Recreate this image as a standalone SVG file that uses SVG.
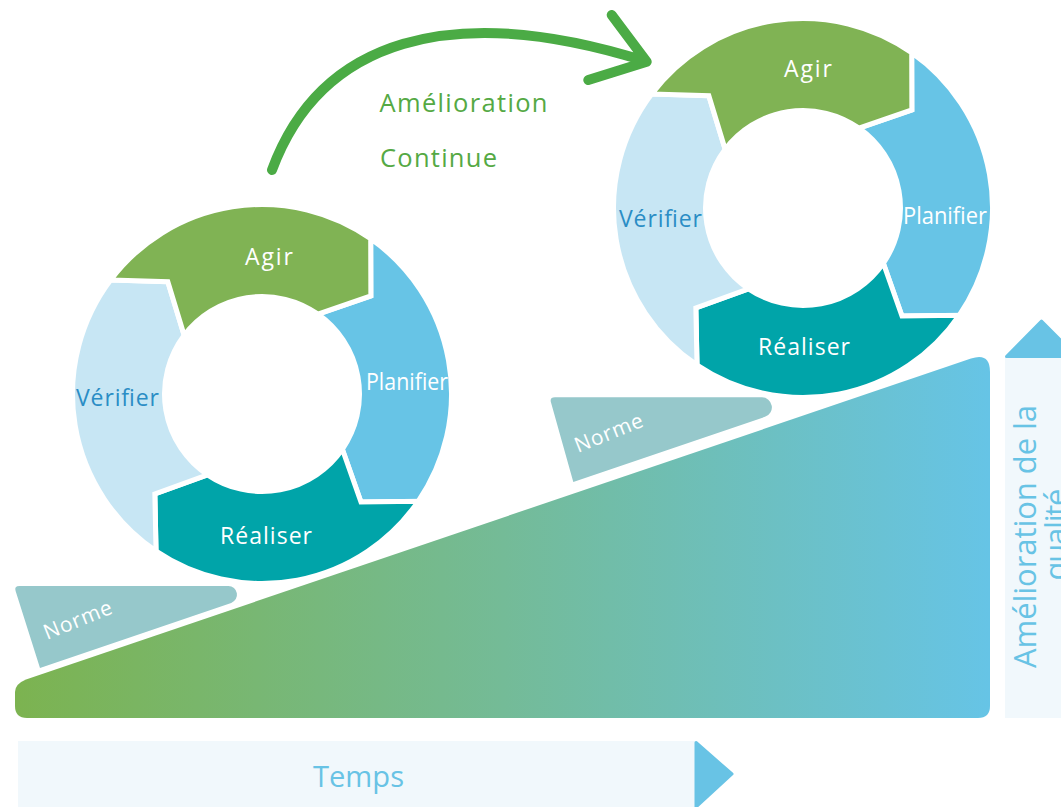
<svg xmlns="http://www.w3.org/2000/svg" xmlns:xlink="http://www.w3.org/1999/xlink" width="1061" height="807" viewBox="0 0 1061 807">
<style>
  .lbl{font-family:"Open Sans","Liberation Sans",sans-serif;font-size:23px;fill:#ffffff}
  .lbl-v{fill:#2a8dc5}
  .seg{stroke:#ffffff;stroke-width:5;stroke-linejoin:miter}
  .agir{fill:#80b354}
  .plan{fill:#67c4e6}
  .real{fill:#00a4a9}
  .veri{fill:#c7e6f4}
  .norme{fill:#96c8cb}
  .norme-t{font-family:"Open Sans","Liberation Sans",sans-serif;font-size:21px;fill:#ffffff}
  .green-t{font-family:"Open Sans","Liberation Sans",sans-serif;font-size:25.5px;fill:#55a944}
  .axis-t{font-family:"Open Sans","Liberation Sans",sans-serif;fill:#68c3e5}
  .panel{fill:#f1f8fc}
  .axis-head{fill:#68c3e5;stroke:#68c3e5;stroke-width:3;stroke-linejoin:round}
</style>
<defs>
  <linearGradient id="rampGrad" gradientUnits="userSpaceOnUse" x1="15" y1="0" x2="990" y2="0">
    <stop offset="0" stop-color="#7cb350"/>
    <stop offset="0.5" stop-color="#74bb97"/>
    <stop offset="1" stop-color="#66c4e6"/>
  </linearGradient>
  <path id="seg-plan" d="M108.70,-155.24 A189.5,189.5 0 0 1 156.17,107.33 L98.98,108.01 L80.35,55.22 A97.5,97.5 0 0 0 55.93,-79.87 L108.86,-98.02 Z"/>
  <path id="seg-real" d="M156.17,107.33 A189.5,189.5 0 0 1 -105.97,157.10 L-107.15,99.91 L-54.52,80.83 A97.5,97.5 0 0 0 80.35,55.22 L98.98,108.01 Z"/>
  <path id="seg-veri" d="M-105.97,157.10 A189.5,189.5 0 0 1 -151.33,-114.04 L-94.17,-112.22 L-77.86,-58.68 A97.5,97.5 0 0 0 -54.52,80.83 L-107.15,99.91 Z"/>
  <path id="seg-agir" d="M-151.33,-114.04 A189.5,189.5 0 0 1 108.70,-155.24 L108.86,-98.02 L55.93,-79.87 A97.5,97.5 0 0 0 -77.86,-58.68 L-94.17,-112.22 Z"/>
</defs>

<g id="ramp">
  <path fill="url(#rampGrad)" d="M15,706 L15,692 Q15,684 26,679.5 L971,358.6 Q990,352.2 990,372 L990,706 Q990,718 978,718 L27,718 Q15,718 15,706 Z"/>
</g>

<g id="norme-1">
  <path class="norme" d="M15.6,591 Q14,586 19.5,586 L228.4,586 A8.7,8.7 0 0 1 231.2,602.9 L40,668 Z"/>
  <text class="norme-t" transform="translate(47,640) rotate(-22)" textLength="72" lengthAdjust="spacing">Norme</text>
</g>

<g id="norme-2">
  <path class="norme" d="M551,402.5 Q549.4,397.3 555,397.3 L761.8,397.3 A10,10 0 0 1 765,416.8 L573.3,482 Z"/>
  <text class="norme-t" transform="translate(578,453) rotate(-22)" textLength="72" lengthAdjust="spacing">Norme</text>
</g>

<g id="cycle-1">
  <g id="cycle-1-planifier">
    <use xlink:href="#seg-plan" class="seg plan" transform="translate(262,394)"/>
    <text class="lbl" x="366" y="389.5" textLength="82" lengthAdjust="spacingAndGlyphs">Planifier</text>
  </g>
  <g id="cycle-1-realiser">
    <use xlink:href="#seg-real" class="seg real" transform="translate(262,394)"/>
    <text class="lbl" x="220" y="543.5" textLength="92" lengthAdjust="spacing">Réaliser</text>
  </g>
  <g id="cycle-1-verifier">
    <use xlink:href="#seg-veri" class="seg veri" transform="translate(262,394)"/>
    <text class="lbl lbl-v" x="76" y="405.5" textLength="83" lengthAdjust="spacing">Vérifier</text>
  </g>
  <g id="cycle-1-agir">
    <use xlink:href="#seg-agir" class="seg agir" transform="translate(262,394)"/>
    <text class="lbl" x="245" y="265" textLength="48" lengthAdjust="spacing">Agir</text>
  </g>
</g>

<g id="cycle-2">
  <g id="cycle-2-planifier">
    <use xlink:href="#seg-plan" class="seg plan" transform="translate(803,208)"/>
    <text class="lbl" x="903" y="224" textLength="84" lengthAdjust="spacingAndGlyphs">Planifier</text>
  </g>
  <g id="cycle-2-realiser">
    <use xlink:href="#seg-real" class="seg real" transform="translate(803,208)"/>
    <text class="lbl" x="758" y="355" textLength="92" lengthAdjust="spacing">Réaliser</text>
  </g>
  <g id="cycle-2-verifier">
    <use xlink:href="#seg-veri" class="seg veri" transform="translate(803,208)"/>
    <text class="lbl lbl-v" x="619" y="226.5" textLength="83" lengthAdjust="spacing">Vérifier</text>
  </g>
  <g id="cycle-2-agir">
    <use xlink:href="#seg-agir" class="seg agir" transform="translate(803,208)"/>
    <text class="lbl" x="784" y="77" textLength="48" lengthAdjust="spacing">Agir</text>
  </g>
</g>

<g id="connectors">
  <path d="M272,170 C320,40 450,0 645,61 M611.7,15 L646.7,61.7 L588.3,80" fill="none" stroke="#4bab45" stroke-width="10" stroke-linecap="round" stroke-linejoin="round"/>
</g>

<g id="label-amelioration">
  <text class="green-t" x="379.5" y="111.7" textLength="168" lengthAdjust="spacing">Amélioration</text>
  <text class="green-t" x="380" y="167.3" textLength="117" lengthAdjust="spacing">Continue</text>
</g>

<g id="axis-time">
  <rect class="panel" x="18" y="741" width="677" height="66"/>
  <path class="axis-head" d="M696,742.5 L732,774 L696,807 Z"/>
  <text class="axis-t" x="358.5" y="787" font-size="30" text-anchor="middle" textLength="91" lengthAdjust="spacingAndGlyphs">Temps</text>
</g>

<g id="axis-quality">
  <rect class="panel" x="1005" y="357" width="56" height="361"/>
  <path class="axis-head" d="M1006.5,356.5 L1041.5,321 L1077,356.5 Z"/>
  <text class="axis-t" transform="translate(1036,536.5) rotate(-90)" font-size="31" text-anchor="middle" textLength="263" lengthAdjust="spacing">Amélioration de la</text>
  <text class="axis-t" transform="translate(1067,534.5) rotate(-90)" font-size="31" text-anchor="middle" textLength="92" lengthAdjust="spacing">qualité</text>
</g>
</svg>
